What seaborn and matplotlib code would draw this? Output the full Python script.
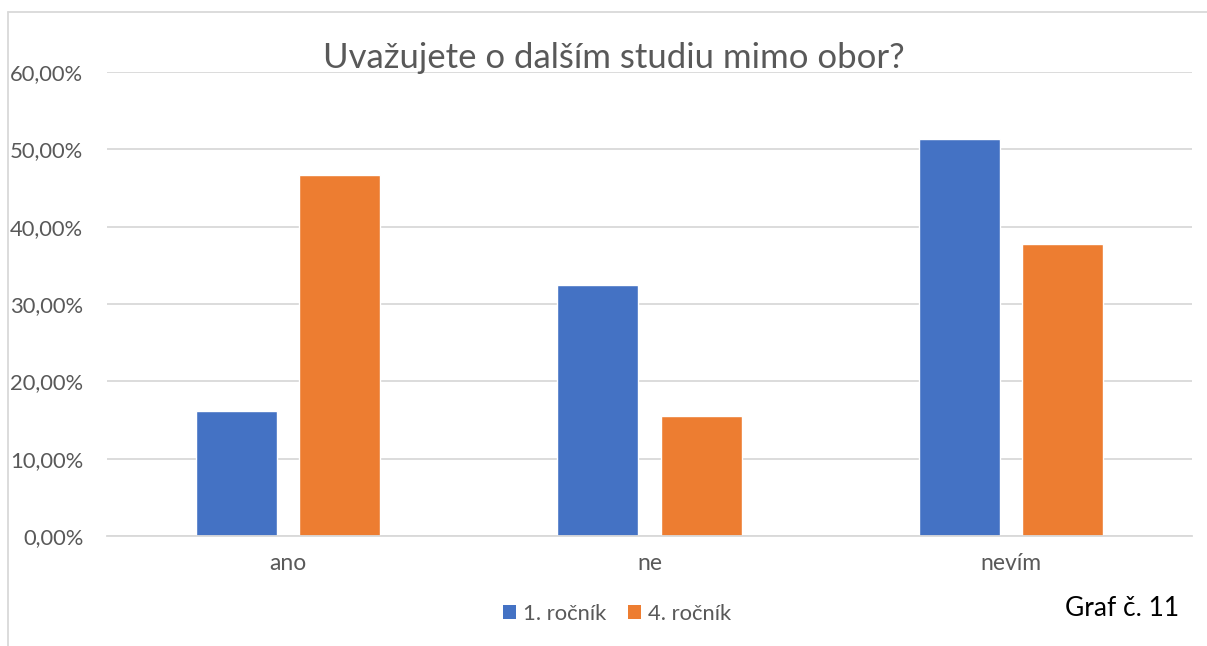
import pandas as pd
import matplotlib.pyplot as plt
import seaborn as sns
from matplotlib.lines import Line2D
from matplotlib.patches import Patch
from matplotlib.ticker import FuncFormatter

categories = ["ano", "ne", "nevím"]
groups = ["1. ročník", "4. ročník"]
rocnik_1 = [0.1622, 0.3243, 0.5135]
rocnik_4 = [0.4667, 0.1556, 0.3778]
colors = ["#4472C4", "#ED7D31"]

df = pd.DataFrame({
    "odpoved": categories * 2,
    "rocnik": [groups[0]] * 3 + [groups[1]] * 3,
    "podil": rocnik_1 + rocnik_4,
})

sns.set_style("white")
plt.rcParams["font.family"] = ["Lato", "DejaVu Sans"]

W, H = 1207, 646
fig = plt.figure(figsize=(W / 100, H / 100), dpi=100)
ax = fig.add_axes([107 / W, 1 - 536 / H, 1085 / W, 464 / H])

sns.barplot(data=df, x="odpoved", y="podil", hue="rocnik", order=categories,
            hue_order=groups, palette=colors, width=0.57, gap=0.214,
            saturation=1, ax=ax, legend=False)

ax.set_ylim(0, 0.6)
ax.set_xlim(-0.5, 2.5)
ax.set_yticks([i / 10 for i in range(7)])
ax.yaxis.set_major_formatter(FuncFormatter(lambda v, p: f"{v * 100:.2f}".replace(".", ",") + "%"))
ax.grid(axis="y", color="#D9D9D9", linewidth=1.3)
ax.set_axisbelow(True)
for s in ["top", "right", "left"]:
    ax.spines[s].set_visible(False)
ax.spines["bottom"].set_color("#D9D9D9")
ax.spines["bottom"].set_linewidth(1.3)
ax.tick_params(axis="both", length=0, colors="#595959")
ax.tick_params(axis="y", pad=17, labelsize=15.8)
ax.tick_params(axis="x", pad=12, labelsize=16.5)
ax.set_xlabel("")
ax.set_ylabel("")

fig.text(614 / W, 1 - 58 / H, "Uvažujete o dalším studiu mimo obor?",
         ha="center", va="center", fontsize=25, color="#595959")

handles = [Patch(facecolor=c, edgecolor="none", label=g) for c, g in zip(colors, groups)]
fig.legend(handles=handles, loc="center", bbox_to_anchor=(617 / W, 1 - 614 / H),
           ncol=2, frameon=False, fontsize=15.8, labelcolor="#595959",
           handlelength=0.6, handleheight=0.6, handletextpad=0.3, columnspacing=1.0)

fig.text(1122 / W, 1 - 609 / H, "Graf č. 11", ha="center", va="center",
         fontsize=19, color="black")

# chart frame (top and left edges visible)
fig.add_artist(Line2D([8 / W, 1], [1 - 12 / H, 1 - 12 / H], color="#D9D9D9", linewidth=1.3))
fig.add_artist(Line2D([8 / W, 8 / W], [0, 1 - 12 / H], color="#D9D9D9", linewidth=1.3))

fig.savefig("out.png", dpi=100, facecolor="white")
